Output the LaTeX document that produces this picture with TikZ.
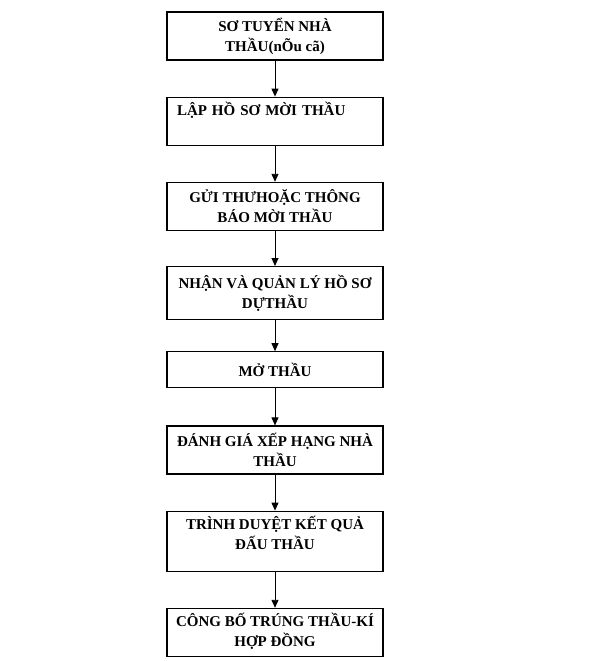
\documentclass[tikz,border=0pt]{standalone}
\usepackage{fontspec}
\setmainfont{Liberation Serif}
\usepackage{tikz}
\usetikzlibrary{arrows.meta, positioning}

\begin{document}
\begin{tikzpicture}[
    stepbox/.style={rectangle, draw=black, line width=1.2pt, fill=white,
                  minimum width=216pt, minimum height=48pt, align=center,
                  inner sep=2pt, font=\fontsize{15}{20}\selectfont\bfseries},
    arr/.style={-{Triangle[length=8pt, width=7pt]}, line width=0.9pt}
]
\useasboundingbox (0,0) rectangle (589pt,-661pt);
\node[stepbox] (sotuyen) at (275pt,-36pt) {SƠ TUYỂN NHÀ\\THẦU(nÕu cã)};
\node[stepbox, below=36pt of sotuyen, align=left, text width=196pt, text depth=24pt] (laphoso) {LẬP HỒ SƠ MỜI THẦU};
\node[stepbox, below=36pt of laphoso] (guithu) {GỬI THƯHOẶC THÔNG\\BÁO MỜI THẦU};
\node[stepbox, below=35pt of guithu, minimum height=53pt] (nhanhoso) {NHẬN VÀ QUẢN LÝ HỒ SƠ\\DỰTHẦU};
\node[stepbox, below=31pt of nhanhoso, minimum height=36pt] (mothau) {MỞ THẦU};
\node[stepbox, below=37pt of mothau] (danhgia) {ĐÁNH GIÁ XẾP HẠNG NHÀ\\THẦU};
\node[stepbox, below=36pt of danhgia, minimum height=60pt, text depth=16pt] (trinhduyet) {TRÌNH DUYỆT KẾT QUẢ\\ĐẤU THẦU};
\node[stepbox, below=36pt of trinhduyet, text depth=6pt] (congbo) {CÔNG BỐ TRÚNG THẦU-KÍ\\HỢP ĐỒNG};
\draw[arr] (sotuyen) -- (laphoso);
\draw[arr] (laphoso) -- (guithu);
\draw[arr] (guithu) -- (nhanhoso);
\draw[arr] (nhanhoso) -- (mothau);
\draw[arr] (mothau) -- (danhgia);
\draw[arr] (danhgia) -- (trinhduyet);
\draw[arr] (trinhduyet) -- (congbo);
\end{tikzpicture}
\end{document}
